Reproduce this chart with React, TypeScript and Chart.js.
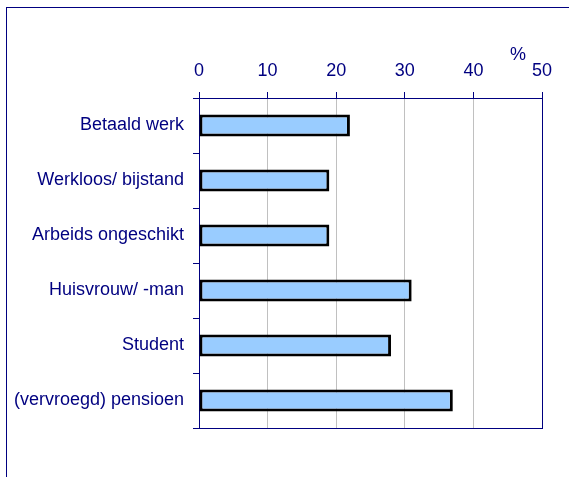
import React, { useEffect, useRef } from "react";
import { Chart, registerables } from "chart.js";

Chart.register(...registerables);

const categories = [
  "Betaald werk",
  "Werkloos/ bijstand",
  "Arbeids ongeschikt",
  "Huisvrouw/ -man",
  "Student",
  "(vervroegd) pensioen",
];
const values = [22, 19, 19, 31, 28, 37];
const xMin = 0;
const xMax = 50;
const xStep = 10;
const unitLabel = "%";

const NAVY = "#000080";
const GRID = "#c0c0c0";
const FONT = "'Liberation Sans', Arial, sans-serif";

const extras = {
  id: "extras",
  afterDraw(chart: any) {
    const { ctx, chartArea } = chart;
    ctx.save();
    ctx.strokeStyle = NAVY;
    ctx.lineWidth = 1;
    ctx.beginPath();
    ctx.moveTo(chartArea.left, Math.round(chartArea.bottom) + 0.5);
    ctx.lineTo(chartArea.right + 1, Math.round(chartArea.bottom) + 0.5);
    ctx.stroke();
    const xs = chart.scales.x;
    ctx.fillStyle = NAVY;
    ctx.font = `18px ${FONT}`;
    ctx.textAlign = "center";
    ctx.textBaseline = "middle";
    ctx.fillText(unitLabel, xs.getPixelForValue(46.5), chartArea.top - 43);
    ctx.restore();
  },
};

export default function App() {
  const ref = useRef<HTMLCanvasElement | null>(null);
  useEffect(() => {
    if (!ref.current) return;
    const chart = new Chart(ref.current, {
      type: "bar",
      data: {
        labels: categories,
        datasets: [
          {
            data: values,
            backgroundColor: "#99CCFF",
            borderColor: "#000000",
            borderWidth: 3,
            borderSkipped: false,
            barPercentage: 0.4,
            categoryPercentage: 1,
          },
        ],
      },
      options: {
        indexAxis: "y",
        responsive: false,
        animation: false,
        layout: { padding: { left: 0, top: 0, right: 27, bottom: 49 } },
        plugins: { legend: { display: false }, tooltip: { enabled: false } },
        scales: {
          x: {
            position: "top",
            min: xMin,
            max: xMax,
            ticks: {
              stepSize: xStep,
              color: NAVY,
              font: { family: FONT, size: 18 },
              padding: 10,
              maxRotation: 0,
            },
            grid: {
              color: (c: any) =>
                c.tick && (c.tick.value === xMax || c.tick.value === xMin) ? NAVY : GRID,
              tickColor: NAVY,
              tickLength: 6,
              lineWidth: 1,
            },
            border: { color: NAVY, width: 1 },
            afterFit: (s: any) => {
              s.height = 98;
            },
          },
          y: {
            type: "category",
            offset: true,
            ticks: {
              color: NAVY,
              font: { family: FONT, size: 18 },
              padding: 9,
            },
            grid: {
              offset: true,
              drawOnChartArea: false,
              tickColor: NAVY,
              tickLength: 6,
            },
            border: { color: NAVY, width: 1 },
            afterFit: (s: any) => {
              s.width = 199;
            },
          },
        },
      },
      plugins: [extras],
    });
    return () => chart.destroy();
  }, []);

  return (
    <div
      style={{
        position: "absolute",
        left: 0,
        top: 0,
        width: 569,
        height: 477,
        overflow: "hidden",
        background: "#ffffff",
      }}
    >
      <div
        style={{
          position: "absolute",
          left: 6,
          top: 7,
          width: 700,
          height: 600,
          borderLeft: `1px solid ${NAVY}`,
          borderTop: `1px solid ${NAVY}`,
        }}
      />
      <canvas
        ref={ref}
        width={569}
        height={477}
        style={{ position: "absolute", left: 0, top: 0, width: 569, height: 477 }}
      />
    </div>
  );
}
